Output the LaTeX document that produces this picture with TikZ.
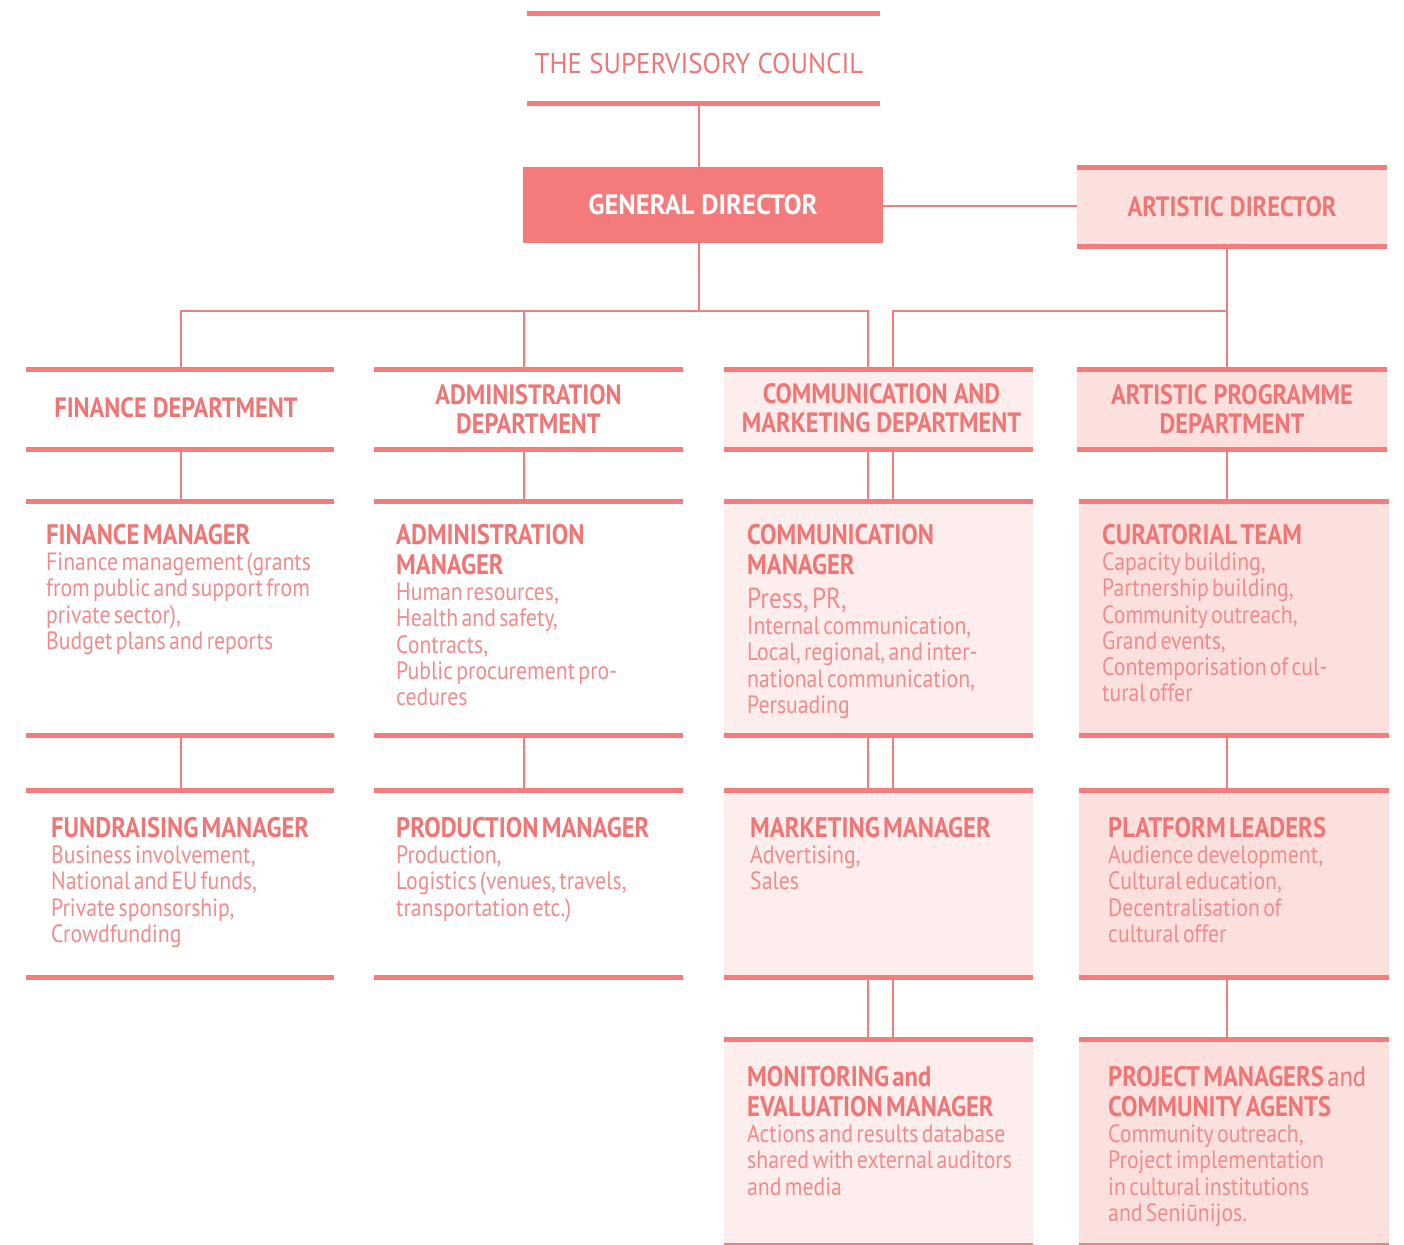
\documentclass[tikz,border=0pt]{standalone}
\usepackage{fontspec}
\setmainfont{PT Sans}
\newfontfamily\nf[FakeStretch=0.87]{PT Sans}
\newfontfamily\gf[FakeStretch=0.95]{PT Sans}
\newfontfamily\wf[FakeStretch=0.94]{PT Sans}
\usetikzlibrary{calc}
\definecolor{linec}{HTML}{F37C7C}
\definecolor{titlec}{HTML}{F07676}
\definecolor{bodyc}{HTML}{F28B8B}
\definecolor{commfill}{HTML}{FDEDEC}
\definecolor{artfill}{HTML}{FCE0DD}
\definecolor{gdfill}{HTML}{F37B7B}
\newcommand\headf{\nf\bfseries\fontsize{28.3}{30}\selectfont\color{titlec}}
\newcommand\bodyf{\nf\fontsize{25}{26.2}\selectfont\color{bodyc}}
\newcommand\pressf{\nf\fontsize{29}{34}\selectfont\color{bodyc}}
\begin{document}
\begin{tikzpicture}[x=1pt,y=-1pt,
  box/.style={rectangle,inner sep=0pt,draw=none},
  bar/.style={line width=5pt,draw=linec},
  conn/.style={line width=2.6pt,draw=linec},
  dept/.style={box,align=center,font=\nf\bfseries\fontsize{28}{29}\selectfont,text=titlec},
  desc/.style={anchor=north west,inner sep=0pt,text width=420pt,align=left},
]
\useasboundingbox (0,0) rectangle (1404,1244);
% top level
\node[box,minimum width=353pt,minimum height=89pt] (sc) at (703.5,58.5) {};
\node[inner sep=0pt,font=\wf\fontsize{28.6}{30}\selectfont,text=titlec] (sct) at (699,63) {THE SUPERVISORY COUNCIL};
\node[box,fill=gdfill,minimum width=360pt,minimum height=76pt,font=\gf\bfseries\fontsize{28}{29}\selectfont,text=white] (gd) at (703,205) {GENERAL DIRECTOR};
\node[dept,fill=artfill,minimum width=310pt,minimum height=78pt] (ad) at (1232,207) {ARTISTIC DIRECTOR};
% departments
\node[dept,minimum width=308pt,minimum height=79pt] (fd) at (180,409.5) {};
\node[dept] (fdt) at (176,408) {FINANCE DEPARTMENT};
\node[dept,minimum width=309pt,minimum height=79pt] (adm) at (528.5,409.5) {ADMINISTRATION\\DEPARTMENT};
\node[dept,fill=commfill,minimum width=309pt,minimum height=79pt] (cmd) at (878.5,409.5) {};
\node[dept] (cmdt) at (881.5,408) {COMMUNICATION AND\\MARKETING DEPARTMENT};
\node[dept,fill=artfill,minimum width=310pt,minimum height=79pt] (apd) at (1232,409.5) {ARTISTIC PROGRAMME\\DEPARTMENT};
% row 1
\node[box,minimum width=308pt,minimum height=233pt] (fm) at (180,618.5) {};
\node[box,minimum width=309pt,minimum height=233pt] (am) at (528.5,618.5) {};
\node[box,fill=commfill,minimum width=309pt,minimum height=233pt] (cm) at (878.5,618.5) {};
\node[box,fill=artfill,minimum width=310pt,minimum height=233pt] (ct) at (1234,618.5) {};
% row 2
\node[box,minimum width=308pt,minimum height=186pt] (fr) at (180,884) {};
\node[box,minimum width=309pt,minimum height=186pt] (pm) at (528.5,884) {};
\node[box,fill=commfill,minimum width=309pt,minimum height=186pt] (mm) at (878.5,884) {};
\node[box,fill=artfill,minimum width=310pt,minimum height=186pt] (pl) at (1234,884) {};
% row 3
\node[box,fill=commfill,minimum width=309pt,minimum height=205pt] (mo) at (878.5,1142.5) {};
\node[box,fill=artfill,minimum width=310pt,minimum height=205pt] (pj) at (1234,1142.5) {};
% connector columns
\coordinate (spine) at (699,0);
\coordinate (bus) at (0,311);
\coordinate (xF) at (181,0);
\coordinate (xA) at (524,0);
\coordinate (xC1) at (868,0);
\coordinate (xC2) at (893,0);
\coordinate (xP) at (1227,0);
\draw[conn] (sc.south -| spine) -- (gd.north -| spine);
\draw[conn] (gd.east |- 0,206) -- (ad.west |- 0,206);
\draw[conn] (gd.south -| spine) -- (spine |- bus);
\draw[conn] (fd.north -| xF) -- (xF |- bus) -- (xC1 |- bus) -- (cmd.north -| xC1);
\draw[conn] (xA |- bus) -- (adm.north -| xA);
\draw[conn] (ad.south -| xP) -- (apd.north -| xP);
\draw[conn] (xP |- bus) -- (xC2 |- bus) -- (cmd.north -| xC2);
\foreach \a/\b in {fd/fm,fm/fr}{\draw[conn] (\a.south -| xF) -- (\b.north -| xF);}
\foreach \a/\b in {adm/am,am/pm}{\draw[conn] (\a.south -| xA) -- (\b.north -| xA);}
\foreach \a/\b in {cmd/cm,cm/mm,mm/mo}{\draw[conn] (\a.south -| xC1) -- (\b.north -| xC1); \draw[conn] (\a.south -| xC2) -- (\b.north -| xC2);}
\foreach \a/\b in {apd/ct,ct/pl,pl/pj}{\draw[conn] (\a.south -| xP) -- (\b.north -| xP);}
% bars
\foreach \n in {sc,ad,fd,adm,cmd,apd,fm,am,cm,ct,fr,pm,mm,pl,mo,pj}{
  \draw[bar] (\n.north west) -- (\n.north east);
  \draw[bar] (\n.south west) -- (\n.south east);}
% descriptions
\node[desc] (fmt) at (46,524) {{\headf FINANCE MANAGER\par}{\bodyf Finance management (grants\\from public and support from\\private sector),\\Budget plans and reports\par}};
\node[desc] (amt) at (396,524) {{\headf ADMINISTRATION\\MANAGER\par}{\bodyf Human resources,\\Health and safety,\\Contracts,\\Public procurement pro-\\cedures\par}};
\node[desc] (cmt) at (747,524) {{\headf COMMUNICATION\\MANAGER\par}{\pressf Press, PR,\par}{\bodyf Internal communication,\\Local, regional, and inter-\\national communication,\\Persuading\par}};
\node[desc] (ctt) at (1102,524) {{\headf CURATORIAL TEAM\par}{\bodyf Capacity building,\\Partnership building,\\Community outreach,\\Grand events,\\Contemporisation of cul-\\tural offer\par}};
\node[desc] (frt) at (51,817) {{\headf FUNDRAISING MANAGER\par}{\bodyf Business involvement,\\National and EU funds,\\Private sponsorship,\\Crowdfunding\par}};
\node[desc] (pmt) at (396,817) {{\headf PRODUCTION MANAGER\par}{\bodyf Production,\\Logistics (venues, travels,\\transportation etc.)\par}};
\node[desc] (mmt) at (750,817) {{\headf MARKETING MANAGER\par}{\bodyf Advertising,\\Sales\par}};
\node[desc] (plt) at (1108,817) {{\headf PLATFORM LEADERS\par}{\bodyf Audience development,\\Cultural education,\\Decentralisation of\\cultural offer\par}};
\node[desc] (mot) at (747,1066) {{\headf MONITORING and\\EVALUATION MANAGER\par}{\bodyf Actions and results database\\shared with external auditors\\and media\par}};
\node[desc] (pjt) at (1108,1066) {{\headf PROJECT MANAGERS {\mdseries and}\\COMMUNITY AGENTS\par}{\bodyf Community outreach,\\Project implementation\\in cultural institutions\\and Seniūnijos.\par}};
\end{tikzpicture}
\end{document}
